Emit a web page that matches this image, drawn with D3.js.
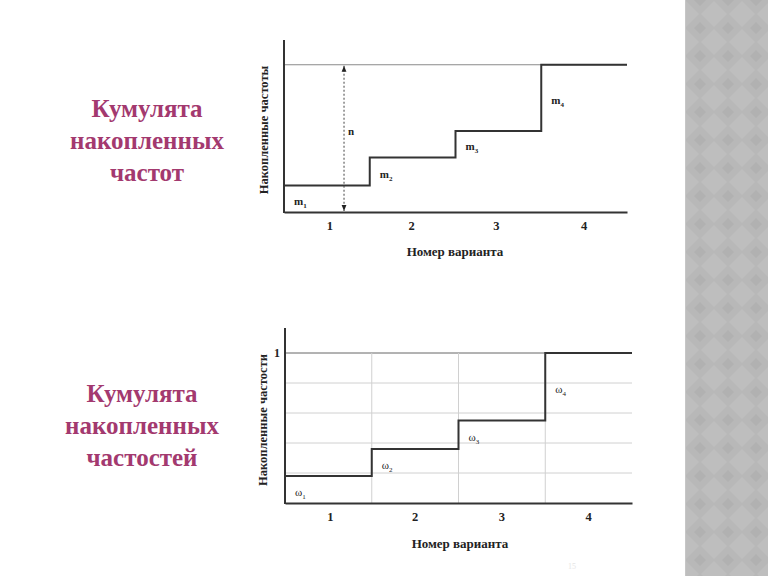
<!DOCTYPE html>
<html><head><meta charset="utf-8">
<script src="https://cdn.jsdelivr.net/npm/d3@7"></script>
<style>
html,body{margin:0;padding:0;background:#fff;}
svg{display:block;}
</style></head>
<body>
<svg id="c" width="768" height="576"></svg>
<script>
// ---- data ----
const categories = [1, 2, 3, 4];
const cumFreq = [18, 37, 55, 100];          // накопленные частоты, n = 100
const cumRel = [0.18, 0.36, 0.55, 1.0];     // накопленные частости
const freqLabels = ["m1", "m2", "m3", "m4"];
const relLabels = ["ω1", "ω2", "ω3", "ω4"];
const relGrid = [0.2, 0.4, 0.6, 0.8, 1.0];
const relTickLabels = [1];
const titleTop = ["Кумулята", "накопленных", "частот"];
const titleBottom = ["Кумулята", "накопленных", "частостей"];

const svg = d3.select("#c");
const serif = "'Liberation Serif','Times New Roman',serif";
const accent = "#a3396f";
const ink = "#333";

// ---- right decorative panel ----
const defs = svg.append("defs");
const pat = defs.append("pattern").attr("id", "dia").attr("patternUnits", "userSpaceOnUse")
  .attr("width", 28).attr("height", 28);
pat.append("rect").attr("width", 28).attr("height", 28).attr("fill", "#b8b8b8");
pat.append("path").attr("d", "M14,1 L27,14 L14,27 L1,14 Z").attr("fill", "#bebebe");
pat.append("path").attr("d", "M0,0 L6,0 L0,6 Z M28,0 L22,0 L28,6 Z M0,28 L6,28 L0,22 Z M28,28 L22,28 L28,22 Z").attr("fill", "#b1b1b1");
svg.append("rect").attr("x", 685).attr("y", 0).attr("width", 83).attr("height", 576).attr("fill", "url(#dia)");
svg.append("line").attr("x1", 685.5).attr("x2", 685.5).attr("y1", 0).attr("y2", 576).attr("stroke", "#c6c6c6");

// ---- left titles ----
function titleBlock(lines, cx, y0) {
  svg.append("g").selectAll("text").data(lines).join("text")
    .attr("x", cx).attr("y", (d, i) => y0 + i * 32)
    .attr("text-anchor", "middle")
    .attr("font-family", serif).attr("font-weight", "bold").attr("font-size", 25)
    .attr("fill", accent).text(d => d);
}
titleBlock(titleTop, 147, 117);
titleBlock(titleBottom, 142, 402);

// ---- helper to draw a chart ----
function drawChart(opt) {
  const g = svg.append("g");
  const x = d3.scaleBand().domain(categories).range([opt.x0, opt.x1]).paddingInner(0).paddingOuter(0);
  const y = d3.scaleLinear().domain([0, opt.ymax]).range([opt.yBase, opt.yTop]);
  const vals = opt.values;

  if (opt.grid) {
    g.append("g").selectAll("line").data(opt.grid).join("line")
      .attr("x1", opt.x0).attr("x2", opt.x1)
      .attr("y1", d => y(d)).attr("y2", d => y(d))
      .attr("stroke", d => d === opt.gridTopValue ? "#666" : "#d0d0d0").attr("stroke-width", 1);
    g.append("g").selectAll("line").data(categories.slice(1)).join("line")
      .attr("x1", d => x(d)).attr("x2", d => x(d))
      .attr("y1", y(opt.gridTopValue)).attr("y2", y(0))
      .attr("stroke", "#d0d0d0").attr("stroke-width", 1);
  }
  if (opt.nLine) {
    g.append("line").attr("x1", opt.x0).attr("x2", opt.x1)
      .attr("y1", y(opt.nLine)).attr("y2", y(opt.nLine))
      .attr("stroke", "#8a8a8a").attr("stroke-width", 1.2);
  }

  // step line
  const pts = categories.map((c, i) => [x(c), y(vals[i])]);
  pts.push([opt.x1, y(vals[vals.length - 1])]);
  g.append("path").attr("d", d3.line().curve(d3.curveStepAfter)(pts))
    .attr("fill", "none").attr("stroke", ink).attr("stroke-width", 2);

  // axes
  const xAxis = d3.axisBottom(x).tickSize(0).tickSizeOuter(0).tickPadding(9);
  const ax = g.append("g").attr("transform", `translate(0,${opt.yBase})`).call(xAxis);
  ax.select(".domain").attr("stroke", ink).attr("stroke-width", 2);
  ax.selectAll("text").attr("font-family", serif).attr("font-weight", "bold").attr("font-size", 12.5)
    .attr("fill", "#222").attr("dx", (d, i) => opt.tickDx[i]);

  const yAxis = d3.axisLeft(y).tickValues(opt.yTicks).tickFormat(d3.format("d"))
    .tickSize(0).tickSizeOuter(0).tickPadding(5);
  const ay = g.append("g").attr("transform", `translate(${opt.x0},0)`).call(yAxis);
  ay.select(".domain").attr("stroke", ink).attr("stroke-width", 2).attr("d", `M0,${opt.yBase + 1}V${opt.axisTop}`);
  ay.selectAll("text").attr("font-family", serif).attr("font-weight", "bold").attr("font-size", 12).attr("fill", "#222");

  // step labels
  g.append("g").selectAll("text").data(opt.labels).join("text")
    .attr("x", (d, i) => x(categories[i]) + 10)
    .attr("y", (d, i) => (y(i === 0 ? 0 : vals[i - 1]) + y(vals[i])) / 2 + 6)
    .attr("font-family", serif).attr("font-weight", opt.labelWeight).attr("font-size", 11).attr("fill", "#222")
    .each(function (d) {
      const t = d3.select(this);
      t.append("tspan").text(d.slice(0, 1));
      t.append("tspan").attr("font-size", 7).attr("dy", 3).text(d.slice(1));
    });

  // axis titles
  g.append("text").attr("x", opt.xTitleX).attr("y", opt.xTitleY).attr("text-anchor", "middle")
    .attr("font-family", serif).attr("font-weight", "bold").attr("font-size", 13).attr("fill", "#222")
    .text("Номер варианта");
  g.append("text").attr("transform", `translate(${opt.yTitleX},${opt.yTitleY}) rotate(-90)`)
    .attr("text-anchor", "middle")
    .attr("font-family", serif).attr("font-weight", "bold").attr("font-size", 12.5).attr("fill", "#222")
    .text(opt.yTitle);

  return {g, x, y};
}

// ---- top chart ----
const topChart = drawChart({
  x0: 284, x1: 627, yBase: 212, yTop: 40, axisTop: 40, ymax: 116.8,
  values: cumFreq, labels: freqLabels, labelWeight: "bold",
  nLine: cumFreq[cumFreq.length - 1], yTicks: [],
  tickDx: [3, -1, -2, 0],
  xTitleX: 455, xTitleY: 256, yTitleX: 268, yTitleY: 130,
  yTitle: "Накопленные частоты"
});
// dashed double arrow for n
{
  const nVal = cumFreq[cumFreq.length - 1];
  const axX = topChart.x(categories[0]) + topChart.x.bandwidth() * 0.7;
  defs.append("marker").attr("id", "ah").attr("viewBox", "0 0 10 10").attr("refX", 10).attr("refY", 5)
    .attr("markerWidth", 6).attr("markerHeight", 6).attr("orient", "auto-start-reverse")
    .append("path").attr("d", "M0,1 L10,5 L0,9 Z").attr("fill", "#222");
  topChart.g.append("line").attr("x1", axX).attr("x2", axX).attr("y1", topChart.y(nVal) + 1).attr("y2", topChart.y(0) - 1)
    .attr("stroke", "#444").attr("stroke-width", 1).attr("stroke-dasharray", "2,2")
    .attr("marker-start", "url(#ah)").attr("marker-end", "url(#ah)");
  topChart.g.append("text").attr("x", axX + 4).attr("y", topChart.y(nVal * 0.55) + 4)
    .attr("font-family", serif).attr("font-weight", "bold").attr("font-size", 11).attr("fill", "#222").text("n");
}

// ---- bottom chart ----
drawChart({
  x0: 285, x1: 632, yBase: 503, yTop: 353, axisTop: 328, ymax: 1,
  values: cumRel, labels: relLabels, labelWeight: "normal",
  grid: relGrid, gridTopValue: 1.0, yTicks: relTickLabels,
  tickDx: [2, 0, 0, 0],
  xTitleX: 460, xTitleY: 548, yTitleX: 267, yTitleY: 420,
  yTitle: "Накопленные частости"
});

// faint slide number
svg.append("text").attr("x", 568).attr("y", 569).attr("font-family", serif).attr("font-size", 8)
  .attr("fill", "#e6e6e6").text("15");
</script>
</body></html>
